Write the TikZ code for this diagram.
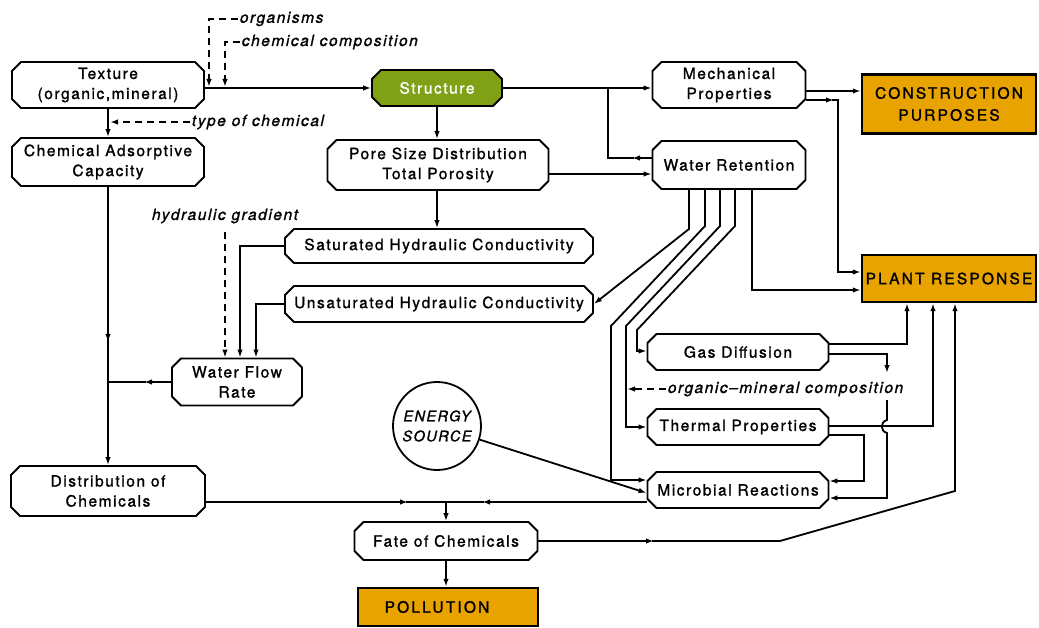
\documentclass[tikz,border=0pt]{standalone}
\usepackage{fontspec}
\setmainfont{TeX Gyre Heros}[LetterSpace=10,FakeBold=1.3]
\usetikzlibrary{arrows.meta,calc}
\definecolor{orangebox}{RGB}{232,163,0}
\definecolor{greenbox}{RGB}{128,160,22}
\newcommand{\chambox}[7][]{%
  \pgfmathsetmacro{\cbxa}{#3-#5/2}\pgfmathsetmacro{\cbxb}{#3+#5/2}%
  \pgfmathsetmacro{\cbya}{#4-#6/2}\pgfmathsetmacro{\cbyb}{#4+#6/2}%
  \draw[boxline,#1] (\cbxa+9,\cbya) -- (\cbxb-9,\cbya) -- (\cbxb,\cbya+9) -- (\cbxb,\cbyb-9)
     -- (\cbxb-9,\cbyb) -- (\cbxa+9,\cbyb) -- (\cbxa,\cbyb-9) -- (\cbxa,\cbya+9) -- cycle;
  \node[boxtext,minimum width=#5pt,minimum height=#6pt] (#2) at (#3,#4) {#7};}
\begin{document}
\begin{tikzpicture}[x=1pt,y=-1pt,line width=1.8pt,
  arr/.style={-{Latex[length=8pt,width=5.5pt]}},
  dsh/.style={dash pattern=on 7pt off 5pt},
  boxline/.style={line width=1.8pt,line join=miter},
  boxtext/.style={font=\fontsize{15.5}{20}\selectfont,align=center,inner sep=0pt},
  obox/.style={draw,fill=orangebox,line width=2.5pt,rectangle,inner sep=0pt,
     font=\fontsize{15.5}{22}\selectfont\addfontfeature{LetterSpace=14},align=center},
  lab/.style={font=\fontsize{15.5}{18}\selectfont\itshape,inner sep=1pt}]
\useasboundingbox (0,0) rectangle (1039,628);

% ---------- boxes ----------
\chambox{texture}{108}{85}{192}{46}{Texture\\(organic,mineral)}
\chambox[fill=greenbox]{structure}{437}{88}{130}{36}{\color{white}Structure}
\chambox{mech}{729}{85}{153}{46}{Mechanical\\Properties}
\chambox{chem}{108}{162}{192}{48}{Chemical Adsorptive\\Capacity}
\chambox{pore}{438}{165}{221}{50}{Pore Size Distribution\\Total Porosity}
\chambox{wr}{729}{165}{153}{48}{Water Retention}
\chambox{sat}{439}{246}{308}{34}{Saturated Hydraulic Conductivity}
\chambox{unsat}{439}{304}{308}{36}{Unsaturated Hydraulic Conductivity}
\chambox{wfr}{237}{382}{130}{47}{Water Flow\\Rate}
\chambox{gas}{738}{352}{181}{36}{Gas Diffusion}
\chambox{thermal}{738}{427}{181}{36}{Thermal Properties}
\chambox{mic}{738}{490}{181}{36}{Microbial Reactions}
\chambox{dist}{108}{491}{194}{50}{Distribution of\\Chemicals}
\chambox{fate}{446}{541}{183}{38}{Fate of Chemicals}

\node[obox,minimum width=174pt,minimum height=59pt] (constr) at (949,104) {CONSTRUCTION\\PURPOSES};
\node[obox,minimum width=174pt,minimum height=47pt] (plant) at (949,278.5) {PLANT RESPONSE};
\node[obox,minimum width=180pt,minimum height=38pt] (poll) at (448,607) {POLLUTION\hspace*{22pt}};

\node[circle,draw,line width=1.8pt,minimum size=88pt,inner sep=0pt,align=center,
      font=\fontsize{14.5}{20}\selectfont\itshape] (energy) at (437,426) {ENERGY\\SOURCE};

% ---------- labels ----------
\node[lab,anchor=west] (org) at (238,19) {organisms};
\node[lab,anchor=west] (chc) at (240,42) {chemical composition};
\node[lab,anchor=west] (toc) at (190,122) {type of chemical};
\node[lab] (hg) at (225,216) {hydraulic gradient};
\node[lab,anchor=west] (omc) at (666,389) {organic--mineral composition};
\coordinate (hgs) at (225,232);

% ---------- dashed influences ----------
\draw[dsh,arr] (org.west) -- (209,19) -- (209,87);
\draw[dsh,arr] (chc.west) -- (225,42) -- (225,87);
\draw[dsh,arr] (toc.west) -- (110,122);
\draw[dsh,arr] (hgs) -- (hgs |- wfr.north);
\draw[dsh,arr] (omc.west) -- (627,389);

% ---------- connectors ----------
\coordinate (j1) at (608,88);
\coordinate (j2) at (446,502);
\draw[arr] (texture.east |- structure.west) -- (structure.west);
\draw[arr] (structure.east) -- (mech.west |- structure.east);
\draw[arr] (wr.west |- 0,158) -- (632,158);
\draw (634,158) -- (j1 |- 0,158) -- (j1);
\draw[arr] (structure.south) -- (pore.north -| structure.south);
\draw[arr] (pore.east |- 0,174) -- (wr.west |- 0,174);
\draw[arr] (pore.south -| 437,0) -- (sat.north -| 437,0);
\draw[arr] (texture.south) -- (chem.north);
\draw[arr] (chem.south) -- (108,342);
\draw[arr] (108,338) -- (dist.north);
\draw[arr] (wfr.west) -- (144,382);
\draw (146,382) -- (108,382);
\draw[arr] (sat.west) -| (wfr.north -| 240,0);
\draw[arr] (unsat.west) -| (wfr.north -| 256,0);

% from Water Retention
\draw[arr] (wr.south -| 689,0) -- (689,229) -- (unsat.east);
\draw[arr] (wr.south -| 705,0) -- (705,226) -- (611,326) -- (611,480) -- (mic.west |- 0,480);
\draw[arr] (wr.south -| 720,0) -- (720,226) -- (626,326) -- (626,427) -- (thermal.west);
\draw[arr] (wr.south -| 735,0) -- (735,226) -- (637,330) -- (637,351) -- (gas.west |- 0,351);
\draw[arr] (wr.south -| 752,0) -- (752,290) -- (plant.west |- 0,290);

% from Mechanical Properties
\coordinate (m91) at (mech.east |- 0,91);
\draw[arr] (m91) -- (constr.west |- m91);
\draw[arr] (mech.east |- 0,100) -- (834,100);
\draw[arr] (832,100) -- (838,100) -- (838,272) -- (plant.west |- 0,272);

% from Gas Diffusion
\draw[arr] (gas.east |- 0,344) -- (907,344) -- (plant.south -| 907,0);
\draw[arr] (gas.east |- 0,354) -- (887,354) -- (887,373);
\draw[arr] (887,400) -- (887,420) .. controls (880,422) and (880,431) .. (887,433) -- (887,498) -- (mic.east |- 0,498);

% from Thermal Properties
\draw[arr] (thermal.east |- 0,426) -- (933,426) -- (plant.south -| 933,0);
\draw[arr] (thermal.east |- 0,435) -- (864,435) -- (864,481) -- (mic.east |- 0,481);

% energy
\draw[arr] (energy) -- (mic.west |- 0,493);

% to Fate of Chemicals
\draw[arr] (mic.west |- 0,502) -- (482,502);
\draw (484,502) -- (j2);
\draw[arr] (dist.east |- 0,502) -- (408,502);
\draw (406,502) -- (j2);
\draw[arr] (j2) -- (fate.north);
\draw[arr] (fate.south) -- (poll.north -| fate.south);
\draw[arr] (fate.east) -- (654,541);
\draw[arr] (652,541) -- (780,541) -- (955,491) -- (plant.south -| 955,0);
\end{tikzpicture}
\end{document}
